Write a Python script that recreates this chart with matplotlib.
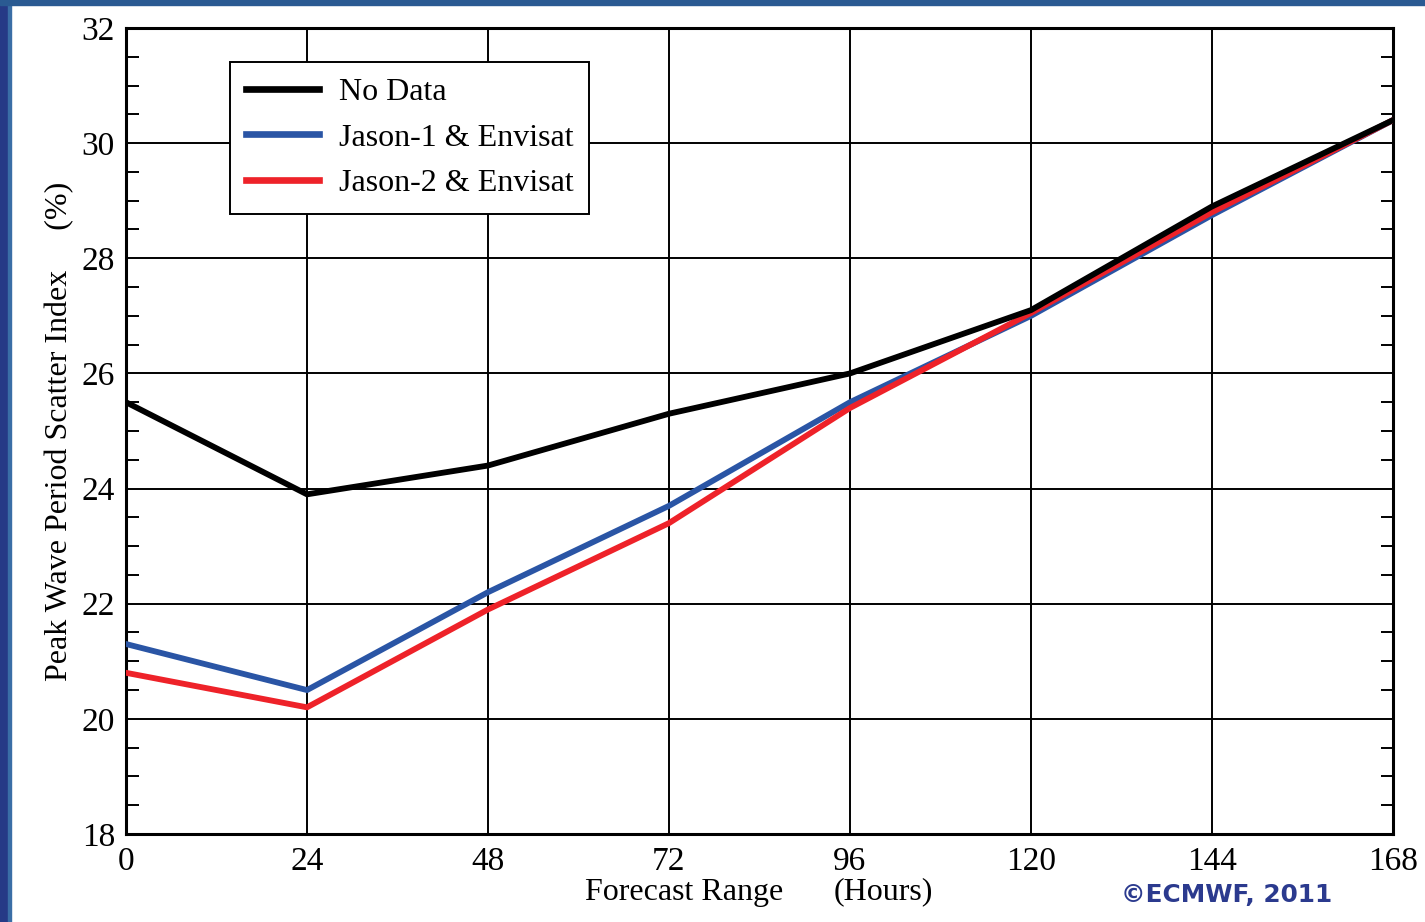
import matplotlib
matplotlib.use("Agg")
import matplotlib.pyplot as plt
from matplotlib.ticker import MultipleLocator
from matplotlib.patches import Rectangle

hours = [0, 24, 48, 72, 96, 120, 144, 168]
no_data = [25.5, 23.9, 24.4, 25.3, 26.0, 27.1, 28.9, 30.4]
jason1 = [21.3, 20.5, 22.2, 23.7, 25.5, 27.0, 28.75, 30.4]
jason2 = [20.8, 20.2, 21.9, 23.4, 25.4, 27.05, 28.8, 30.4]
labels = ["No Data", "Jason-1 & Envisat", "Jason-2 & Envisat"]
colors = ["#000000", "#2a55a5", "#ee2229"]
xticks = [0, 24, 48, 72, 96, 120, 144, 168]
yticks = [18, 20, 22, 24, 26, 28, 30, 32]

plt.rcParams['font.family'] = ['Liberation Serif', 'DejaVu Serif']

W, H = 1425, 922
fig = plt.figure(figsize=(W / 100, H / 100), dpi=100)
ax = fig.add_axes([126 / W, 1 - 834 / H, (1393 - 126) / W, (834 - 28) / H])

# Frame stripes
fig.patches.append(Rectangle((0, 0), 8 / W, 1, transform=fig.transFigure,
                             color="#263a86", zorder=0))
fig.patches.append(Rectangle((8 / W, 0), 3 / W, 1, transform=fig.transFigure,
                             color="#3a6ea6", zorder=0))
fig.patches.append(Rectangle((0, 1 - 5 / H), 1, 5 / H, transform=fig.transFigure,
                             color="#2a5a92", zorder=0))

l1, = ax.plot(hours, no_data, color=colors[0], lw=4.2, zorder=5, label=labels[0])
l2, = ax.plot(hours, jason1, color=colors[1], lw=4.2, zorder=3, label=labels[1])
l3, = ax.plot(hours, jason2, color=colors[2], lw=4.2, zorder=4, label=labels[2])

ax.set_xlim(0, 168)
ax.set_ylim(18, 32)
ax.set_xticks(xticks)
ax.set_yticks(yticks)
ax.yaxis.set_minor_locator(MultipleLocator(0.5))
ax.grid(True, which="major", color="black", lw=1.4)
ax.set_axisbelow(True)
for s in ax.spines.values():
    s.set_linewidth(2.2)
ax.tick_params(axis="both", which="major", length=0, labelsize=24, pad=8)
ax.tick_params(axis="y", which="minor", direction="in", length=9, width=1.4,
               left=True, right=True)
ax.tick_params(axis="x", which="major", pad=9)

ax.set_ylabel("Peak Wave Period Scatter Index     (%)", fontsize=23, labelpad=5)
ax.text(0.4404, -0.072, "Forecast Range", transform=ax.transAxes, fontsize=23,
        ha="center", va="center")
ax.text(0.5975, -0.072, "(Hours)", transform=ax.transAxes, fontsize=23,
        ha="center", va="center")

fig.text(1121 / W, 1 - 895 / H, "\u00a9ECMWF, 2011", fontsize=17.8, fontweight="bold",
         color="#2b3a8e", family="DejaVu Sans", ha="left", va="center")

leg = ax.legend(handles=[l1, l2, l3], loc="upper left",
                bbox_to_anchor=((230 - 126) / 1267, (834 - 62) / 806),
                borderaxespad=0, fontsize=23, frameon=True, fancybox=False,
                edgecolor="black", framealpha=1, handlelength=2.3,
                handletextpad=0.6, labelspacing=0.5, borderpad=0.5)
leg.get_frame().set_linewidth(1.4)
for h in leg.get_lines():
    h.set_linewidth(4.8)

fig.savefig("out.png", dpi=100)
